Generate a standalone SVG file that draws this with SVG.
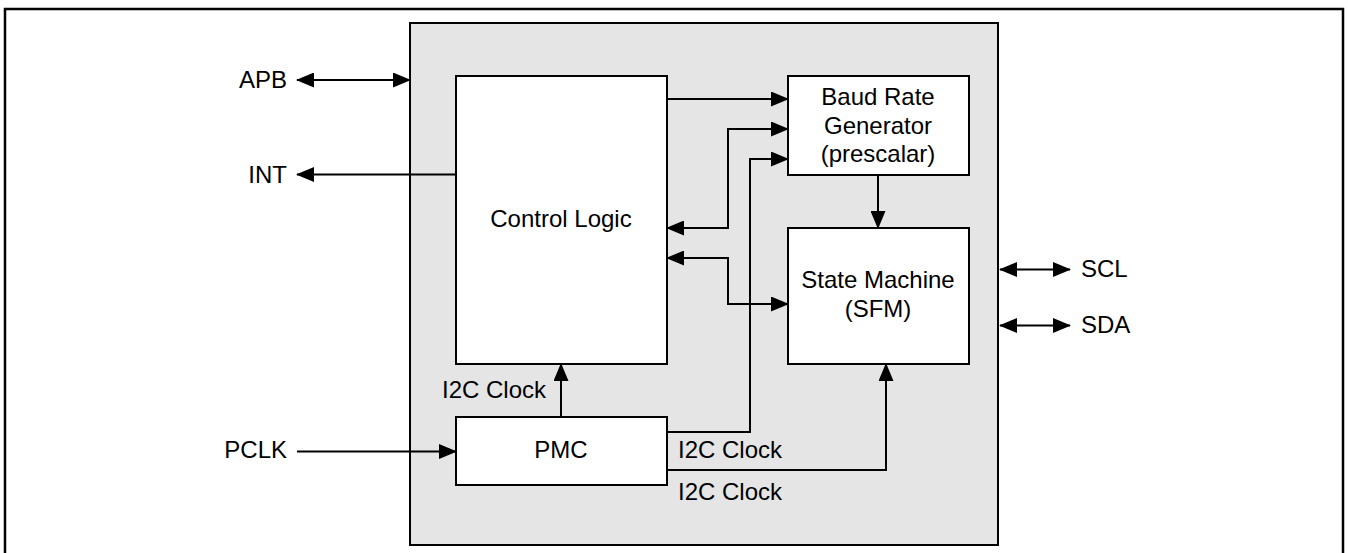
<svg xmlns="http://www.w3.org/2000/svg" width="1348" height="553" viewBox="0 0 1348 553">
<style>
.t{font-family:"Liberation Sans",Arial,sans-serif;font-size:24px;fill:#000}
.c{text-anchor:middle}
.e{text-anchor:end}
.box{fill:#fff;stroke:#000;stroke-width:2}
.ln{fill:none;stroke:#000;stroke-width:2}
</style>
<defs>
<marker id="ah" viewBox="0 0 18 15" refX="17" refY="7.5" markerWidth="18" markerHeight="15" markerUnits="userSpaceOnUse" orient="auto-start-reverse">
<path d="M0,0 L18,7.5 L0,15 Z" fill="#000"/>
</marker>
</defs>
<rect x="0" y="0" width="1348" height="553" fill="#fff"/>
<rect id="frame" x="5" y="9" width="1338" height="560" fill="none" stroke="#000" stroke-width="2.5"/>
<g id="block">
<rect x="410" y="23" width="588" height="522" fill="#e5e5e5" stroke="#000" stroke-width="2"/>
</g>
<g id="control-logic">
<rect class="box" x="456" y="76" width="211" height="288"/>
<text class="t c" x="561" y="227">Control Logic</text>
</g>
<g id="baud-rate">
<rect class="box" x="788" y="76" width="181" height="99"/>
<text class="t c" x="878" y="105">Baud Rate</text>
<text class="t c" x="878" y="134">Generator</text>
<text class="t c" x="878" y="162">(prescalar)</text>
</g>
<g id="state-machine">
<rect class="box" x="788" y="228" width="181" height="136"/>
<text class="t c" x="878" y="288">State Machine</text>
<text class="t c" x="878" y="317">(SFM)</text>
</g>
<g id="pmc">
<rect class="box" x="456" y="417" width="211" height="68"/>
<text class="t c" x="561" y="458">PMC</text>
</g>
<g id="labels">
<text class="t e" x="287" y="88">APB</text>
<text class="t e" x="287" y="183">INT</text>
<text class="t e" x="287" y="458">PCLK</text>
<text class="t" x="1081" y="277">SCL</text>
<text class="t" x="1081" y="333">SDA</text>
<text class="t e" x="546" y="398">I2C Clock</text>
<text class="t" x="678" y="458">I2C Clock</text>
<text class="t" x="678" y="500">I2C Clock</text>
</g>
<g id="connectors">
<path class="ln" d="M297,80 H410" marker-start="url(#ah)" marker-end="url(#ah)"/>
<path class="ln" d="M456,174.5 H297" marker-end="url(#ah)"/>
<path class="ln" d="M667,99 H788" marker-end="url(#ah)"/>
<path class="ln" d="M667,228 H728 V129 H788" marker-start="url(#ah)" marker-end="url(#ah)"/>
<path class="ln" d="M667,432 H750 V159 H788" marker-end="url(#ah)"/>
<path class="ln" d="M667,258 H728 V304 H788" marker-start="url(#ah)" marker-end="url(#ah)"/>
<path class="ln" d="M878,175 V228" marker-end="url(#ah)"/>
<path class="ln" d="M667,470 H886 V364" marker-end="url(#ah)"/>
<path class="ln" d="M561,417 V364" marker-end="url(#ah)"/>
<path class="ln" d="M297,451.5 H456" marker-end="url(#ah)"/>
<path class="ln" d="M1000,269.5 H1070" marker-start="url(#ah)" marker-end="url(#ah)"/>
<path class="ln" d="M1000,325.5 H1070" marker-start="url(#ah)" marker-end="url(#ah)"/>
</g>
</svg>
